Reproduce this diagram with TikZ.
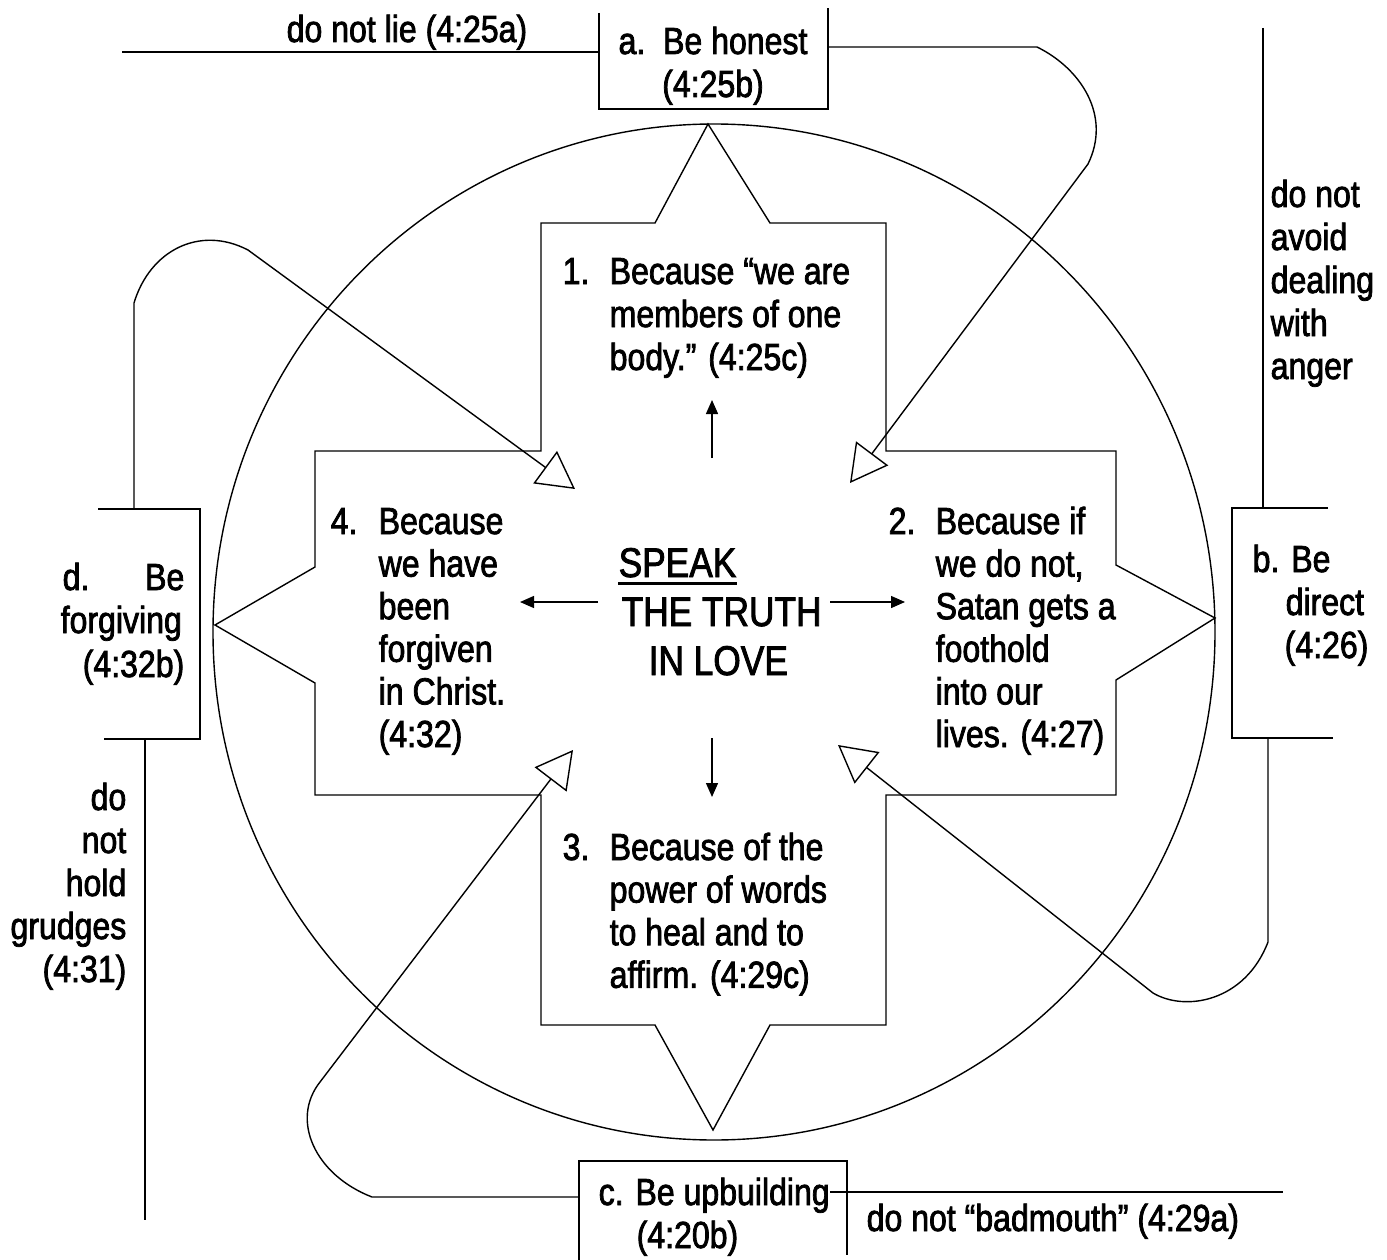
\documentclass[tikz,border=0pt]{standalone}
\usepackage{fontspec}
\setmainfont{Liberation Sans}[FakeStretch=0.85,FakeBold=2]
\usetikzlibrary{arrows.meta}
\begin{document}
\begin{tikzpicture}[x=1pt,y=-1pt,line width=1.4pt,
  txt/.style={font=\fontsize{37.7}{43}\selectfont,inner sep=0pt},
  big/.style={font=\fontsize{41.5}{49}\selectfont,inner sep=0pt},
  hollow/.style={-{Triangle[open,length=37pt,width=40pt]}},
  smallarr/.style={-{Triangle[length=14pt,width=12pt]}}]
\useasboundingbox (0,0) rectangle (1387,1260);
% circle and star
\draw (714,632) ellipse [x radius=501pt,y radius=508pt];
\draw (541,223) -- (655,223) -- (708,124) -- (770,223) -- (886,223) -- (886,451)
  -- (1116,451) -- (1116,565) -- (1215,618) -- (1116,680) -- (1116,795) -- (886,795)
  -- (886,1025) -- (770,1025) -- (713,1130) -- (655,1025) -- (541,1025) -- (541,795)
  -- (315,795) -- (315,683) -- (215,625) -- (315,567) -- (315,451) -- (541,451) -- cycle;
% coordinates
\coordinate (aTL) at (599,13); \coordinate (aBL) at (599,109);
\coordinate (aBR) at (828,109); \coordinate (aTR) at (828,8);
\coordinate (lieS) at (122,52); \coordinate (lieE) at (599,52);
\coordinate (aR0) at (828,47); \coordinate (aR1) at (1037,47); \coordinate (aR2) at (1088,164);
\coordinate (tipA) at (850,483);
\coordinate (bTR) at (1328,508); \coordinate (bTL) at (1232,508);
\coordinate (bBL) at (1232,738); \coordinate (bBR) at (1333,738);
\coordinate (angS) at (1263,28); \coordinate (angE) at (1263,508);
\coordinate (bR0) at (1268,738); \coordinate (bR1) at (1268,942); \coordinate (bR2) at (1153,993);
\coordinate (tipB) at (838,745);
\coordinate (cBL) at (579,1260); \coordinate (cTL) at (579,1161);
\coordinate (cTR) at (847,1161); \coordinate (cBR) at (847,1255);
\coordinate (cL0) at (579,1197); \coordinate (cL1) at (372,1197); \coordinate (cL2) at (320,1082);
\coordinate (tipC) at (573,750);
\coordinate (badS) at (830,1192); \coordinate (badE) at (1283,1192);
\coordinate (dTL) at (98,509); \coordinate (dTR) at (200,509);
\coordinate (dBR) at (200,739); \coordinate (dBL) at (104,739);
\coordinate (dU0) at (134,509); \coordinate (dU1) at (134,303); \coordinate (dU2) at (248,250);
\coordinate (tipD) at (575,489);
\coordinate (grS) at (145,739); \coordinate (grE) at (145,1220);
% boxes and connectors
\draw (aTL) -- (aBL) -- (aBR) -- (aTR);
\draw (lieS) -- (lieE);
\draw[hollow] (aR0) -- (aR1) .. controls (1080,68) and (1112,115) .. (aR2) -- (tipA);
\draw (bTR) -- (bTL) -- (bBL) -- (bBR);
\draw (angS) -- (angE);
\draw[hollow] (bR0) -- (bR1) .. controls (1245,1002) and (1185,1012) .. (bR2) -- (tipB);
\draw (cBL) -- (cTL) -- (cTR) -- (cBR);
\draw[hollow] (cL0) -- (cL1) .. controls (315,1175) and (290,1120) .. (cL2) -- (tipC);
\draw (badS) -- (badE);
\draw (dTL) -- (dTR) -- (dBR) -- (dBL);
\draw[hollow] (dU0) -- (dU1) .. controls (150,250) and (200,225) .. (dU2) -- (tipD);
\draw (grS) -- (grE);
% center arrows
\coordinate (upS) at (712,458); \coordinate (upE) at (712,400);
\coordinate (dnS) at (712,738); \coordinate (dnE) at (712,797);
\coordinate (lfS) at (598,602); \coordinate (lfE) at (520,602);
\coordinate (rtS) at (830,602); \coordinate (rtE) at (905,602);
\draw[smallarr] (upS) -- (upE);
\draw[smallarr] (dnS) -- (dnE);
\draw[smallarr] (lfS) -- (lfE);
\draw[smallarr] (rtS) -- (rtE);
% center text
\node[big,anchor=base west] (sp) at (618,577) {SPEAK};
\draw[line width=3pt] ([yshift=-6pt]sp.base west) -- ([yshift=-6pt]sp.base east);
\node[big,anchor=base west] (tt) at (621,626) {THE TRUTH};
\node[big,anchor=base west] (il) at (648,675) {IN LOVE};
% box texts
\node[txt,anchor=base] (a1) at (713,54) {a.\ \ Be honest};
\node[txt,anchor=base] (a2) at (713,97) {(4:25b)};
\node[txt,anchor=base west] (lie) at (286,42) {do not lie (4:25a)};
\node[txt,anchor=base west] (b1) at (1252,572) {b. Be};
\node[txt,anchor=base west] (b2) at (1285,615) {direct};
\node[txt,anchor=base west] (b3) at (1284,658) {(4:26)};
\node[txt,anchor=base west] (c1) at (598,1205) {c. Be upbuilding};
\node[txt,anchor=base west] (c2) at (636,1248) {(4:20b)};
\node[txt,anchor=base west] (bad) at (866,1231) {do not “badmouth” (4:29a)};
\node[txt,anchor=base west] (d1) at (62,590) {d.};
\node[txt,anchor=base east] (d2) at (185,590) {Be};
\node[txt,anchor=base west] (d3) at (60,633) {forgiving};
\node[txt,anchor=base east] (d4) at (185,677) {(4:32b)};
\foreach \t [count=\i] in {do not,avoid,dealing,with,anger}
  \node[txt,anchor=base west] (ang-\i) at (1270,{207+43*(\i-1)}) {\t};
\foreach \t [count=\i] in {do,not,hold,grudges,(4:31)}
  \node[txt,anchor=base east] (gr-\i) at (127,{810+43*(\i-1)}) {\t};
% arm texts
\node[txt,anchor=base west] (n1) at (562,284) {1.};
\foreach \t [count=\i] in {Because “we are,members of one,body.” (4:25c)}
  \node[txt,anchor=base west] (one-\i) at (609,{284+43*(\i-1)}) {\t};
\node[txt,anchor=base west] (n2) at (888,534) {2.};
\foreach \t [count=\i] in {Because if,{we do not,},Satan gets a,foothold,into our,lives. (4:27)}
  \node[txt,anchor=base west] (two-\i) at (935,{534+42.6*(\i-1)}) {\t};
\node[txt,anchor=base west] (n3) at (562,860) {3.};
\foreach \t [count=\i] in {Because of the,power of words,to heal and to,affirm. (4:29c)}
  \node[txt,anchor=base west] (three-\i) at (609,{860+42.6*(\i-1)}) {\t};
\node[txt,anchor=base west] (n4) at (330,534) {4.};
\foreach \t [count=\i] in {Because,we have,been,forgiven,in Christ.,(4:32)}
  \node[txt,anchor=base west] (four-\i) at (378,{534+42.6*(\i-1)}) {\t};
\end{tikzpicture}
\end{document}
